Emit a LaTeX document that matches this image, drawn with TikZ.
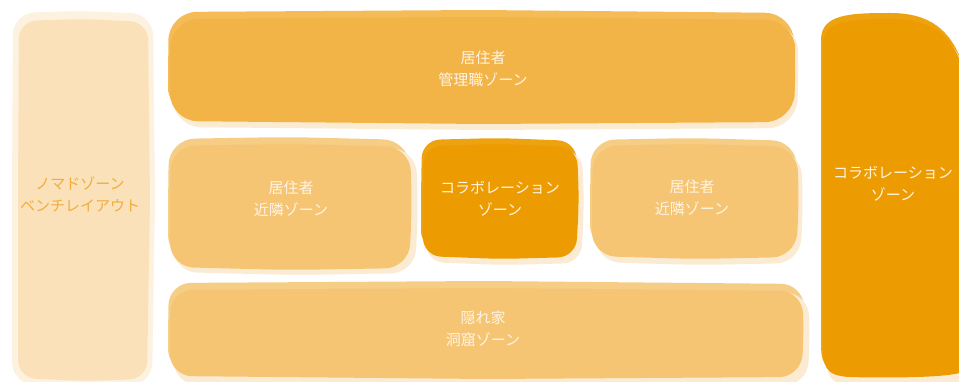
\documentclass[tikz,border=0pt]{standalone}
\usepackage{fontspec}
\newfontfamily\jpfont{Noto Sans CJK JP}
\definecolor{cream}{HTML}{FCEBD3}
\definecolor{nomadfill}{HTML}{FAE1B9}
\definecolor{nomadedge}{HTML}{FDF1DF}
\definecolor{topfill}{HTML}{F2B347}
\definecolor{topband}{HTML}{F4BB56}
\definecolor{midfill}{HTML}{F5C573}
\definecolor{midband}{HTML}{F6CD85}
\definecolor{colfill}{HTML}{EC9C00}
\definecolor{colband}{HTML}{EDA210}
\definecolor{whitetext}{HTML}{FFF4E2}
\definecolor{nomadtext}{HTML}{F0AE3C}
% x1 y1 x2 y2 radius
\newcommand\blob[5]{[rounded corners=#5] (#1,{(#2+#4)/2}) -- (#1+1,#2) -- ({(#1+#3)/2},#2-2) -- (#3,#2+1) -- (#3+2,{(#2+#4)/2}) -- (#3-1,#4) -- ({(#1+#3)/2},#4+2) -- (#1,#4-1) -- cycle}
\tikzset{
  zonelabel/.style={align=center, text=whitetext, font=\jpfont\fontsize{15}{22}\selectfont},
  nomadlabel/.style={align=center, text=nomadtext, font=\jpfont\fontsize{15}{22}\selectfont}
}
\begin{document}
\begin{tikzpicture}[x=1pt,y=-1pt]
\useasboundingbox (0,0) rectangle (959,382);
\clip (0,0) rectangle (959,382);
\fill[white] (0,0) rectangle (959,382);
% nomad column
\fill[nomadedge] \blob{12}{13}{153}{385}{22};
\fill[nomadfill] \blob{18}{21}{148}{379}{18};
% top zone
\fill[topband] \blob{168}{12}{793}{116}{28};
\fill[cream] \blob{173}{22}{797}{128}{28};
\fill[topfill] \blob{170}{19}{794}{122}{28};
% middle left
\fill[midband] \blob{168}{139}{409}{262}{26};
\fill[cream] \blob{173}{148}{416}{273}{24};
\fill[midfill] \blob{170}{146}{410}{268}{24};
% collaboration centre
\fill[colband] \blob{421}{140}{576}{250}{18};
\fill[cream] \blob{426}{150}{582}{263}{18};
\fill[colfill] \blob{423}{146}{577}{257}{18};
% middle right
\fill[midband] \blob{590}{140}{796}{250}{24};
\fill[cream] \blob{596}{150}{801}{263}{24};
\fill[midfill] \blob{592}{146}{797}{257}{24};
% bottom
\fill[midband] \blob{168}{283}{803}{372}{22};
\fill[cream] \blob{174}{292}{808}{385}{22};
\fill[midfill] \blob{170}{290}{802}{377}{22};
% right column
\fill[colband] (821,40) .. controls (821,14) and (850,13) .. (890,13) .. controls (930,13) and (950,30) .. (962,62) -- (962,372) -- (850,372) .. controls (821,372) and (821,360) .. (821,340) -- cycle;
\fill[cream] (826,44) .. controls (826,24) and (855,24) .. (895,24) .. controls (935,24) and (955,40) .. (965,70) -- (965,386) -- (855,386) .. controls (826,386) and (826,370) .. (826,350) -- cycle;
\fill[colfill] (823,44) .. controls (823,20) and (852,19) .. (892,19) .. controls (932,19) and (952,36) .. (962,66) -- (962,372) .. controls (950,378) and (880,378) .. (850,377) .. controls (824,376) and (823,365) .. (823,345) -- cycle;
% labels
\node[nomadlabel] (nomad) at (80,194) {ノマドゾーン\\ベンチレイアウト};
\node[zonelabel] (manager) at (483,69) {居住者\\管理職ゾーン};
\node[zonelabel] (nearleft) at (291,199) {居住者\\近隣ゾーン};
\node[zonelabel] (collabmid) at (500,199) {コラボレーション\\ゾーン};
\node[zonelabel] (nearright) at (692,198) {居住者\\近隣ゾーン};
\node[zonelabel] (hidden) at (483,329) {隠れ家\\洞窟ゾーン};
\node[zonelabel] (collabright) at (893,184) {コラボレーション\\ゾーン};
\end{tikzpicture}
\end{document}
